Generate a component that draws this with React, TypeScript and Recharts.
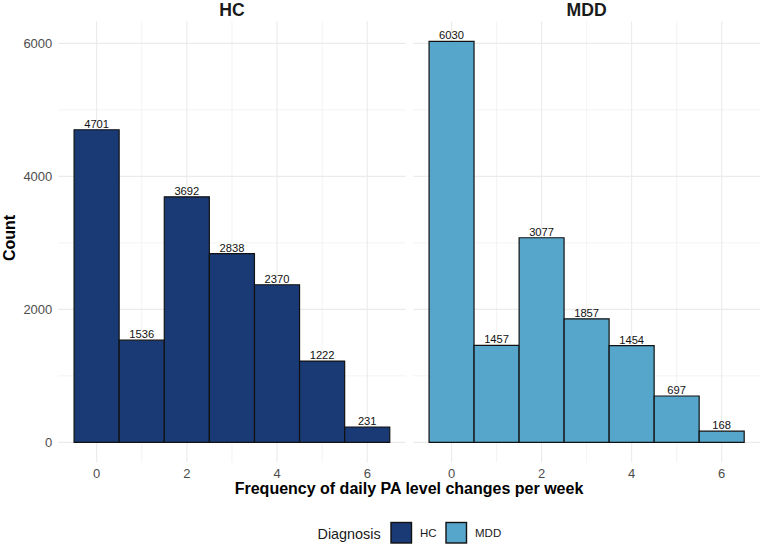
import { BarChart, Bar, XAxis, YAxis, CartesianGrid, LabelList } from "recharts";

// weekly change counts per diagnosis group
const changesPerWeek = [0, 1, 2, 3, 4, 5, 6];
const hcCounts = [4701, 1536, 3692, 2838, 2370, 1222, 231];
const mddCounts = [6030, 1457, 3077, 1857, 1454, 697, 168];

const groupNames = ["HC", "MDD"];
const groupColors = ["#1a3a75", "#56a6cb"];

const xMajor = [0, 2, 4, 6];
const xMinor = [1, 3, 5];
const yMajor = [0, 2000, 4000, 6000];
const yMinor = [1000, 3000, 5000];

const FONT = "'Liberation Sans', Arial, Helvetica, sans-serif";
const X_DOMAIN: [number, number] = [-0.85, 6.85];
const Y_DOMAIN: [number, number] = [-301.5, 6331.5];

const PLOT_TOP = 21.3;
const PLOT_BOTTOM = 462.4;
const X_AXIS_H = 30;
const H = 548;

function toRows(counts: number[]) {
  return changesPerWeek.map((k, i) => ({ k, n: counts[i] }));
}

type PanelProps = {
  counts: number[];
  color: string;
  left: number;
  width: number;
  plotLeft: number;
  plotRight: number;
  showY: boolean;
};

function Panel({ counts, color, left, width, plotLeft, plotRight, showY }: PanelProps) {
  const yW = showY ? 50 : 0;
  const plotW = plotRight - plotLeft;
  // one bin = one unit on the x scale; keep just under the band so recharts doesn't shrink it
  const binW = plotW / (X_DOMAIN[1] - X_DOMAIN[0]) - 0.05;
  return (
    <div style={{ position: "absolute", left, top: 0 }}>
      <BarChart
        width={width}
        height={H}
        data={toRows(counts)}
        barCategoryGap="0%"
        barGap={0}
        margin={{
          left: plotLeft - left - yW,
          right: left + width - plotRight,
          top: PLOT_TOP,
          bottom: H - PLOT_BOTTOM - X_AXIS_H,
        }}
      >
        <CartesianGrid stroke="#ebebeb" strokeWidth={0.6} verticalValues={xMinor} horizontalValues={yMinor} />
        <CartesianGrid stroke="#ebebeb" strokeWidth={1.1} verticalValues={xMajor} horizontalValues={yMajor} />
        <XAxis
          dataKey="k"
          type="number"
          domain={X_DOMAIN}
          allowDataOverflow
          ticks={xMajor}
          height={X_AXIS_H}
          axisLine={false}
          tickLine={false}
          tickSize={0}
          tickMargin={6}
          tick={{ fill: "#4d4d4d", fontSize: 13, fontFamily: FONT }}
        />
        <YAxis
          type="number"
          domain={Y_DOMAIN}
          allowDataOverflow
          ticks={yMajor}
          hide={!showY}
          width={yW}
          axisLine={false}
          tickLine={false}
          tickSize={0}
          tickMargin={6}
          tick={{ fill: "#4d4d4d", fontSize: 13, fontFamily: FONT }}
        />
        <Bar dataKey="n" fill={color} stroke="#111" strokeWidth={1.2} barSize={binW} isAnimationActive={false}>
          <LabelList dataKey="n" position="top" offset={2} fill="#111" fontSize={11.2} fontFamily={FONT} />
        </Bar>
      </BarChart>
    </div>
  );
}

export default function App() {
  const panels = [
    { left: 0, width: 410, plotLeft: 58.3, plotRight: 405.6, showY: true, counts: hcCounts },
    { left: 408, width: 356, plotLeft: 413.3, plotRight: 760, showY: false, counts: mddCounts },
  ];
  return (
    <div style={{ position: "absolute", left: 0, top: 0, width: 764, height: H, background: "#fff", fontFamily: FONT }}>
      {panels.map((p, i) => (
        <Panel key={groupNames[i]} color={groupColors[i]} {...p} />
      ))}
      <svg width={764} height={H} style={{ position: "absolute", left: 0, top: 0, pointerEvents: "none" }}>
        {panels.map((p, i) => (
          <text
            key={groupNames[i]}
            x={(p.plotLeft + p.plotRight) / 2}
            y={16}
            textAnchor="middle"
            fontSize={17.6}
            fontWeight="bold"
            fill="#1a1a1a"
            fontFamily={FONT}
          >
            {groupNames[i]}
          </text>
        ))}
        <text x={409} y={494} textAnchor="middle" fontSize={16} fontWeight="bold" fill="#000" fontFamily={FONT}>
          Frequency of daily PA level changes per week
        </text>
        <text
          transform="translate(15,238) rotate(-90)"
          textAnchor="middle"
          fontSize={16}
          fontWeight="bold"
          fill="#000"
          fontFamily={FONT}
        >
          Count
        </text>
        <text x={317.5} y={538.5} fontSize={14.4} fill="#1a1a1a" fontFamily={FONT}>
          Diagnosis
        </text>
        {groupNames.map((g, i) => {
          const kx = i === 0 ? 391 : 446;
          return (
            <g key={g}>
              <rect x={kx} y={522.5} width={20.5} height={20.5} fill={groupColors[i]} stroke="#111" strokeWidth={1.4} />
              <text x={kx + 29} y={537} fontSize={11.5} fill="#1a1a1a" fontFamily={FONT}>
                {g}
              </text>
            </g>
          );
        })}
      </svg>
    </div>
  );
}
